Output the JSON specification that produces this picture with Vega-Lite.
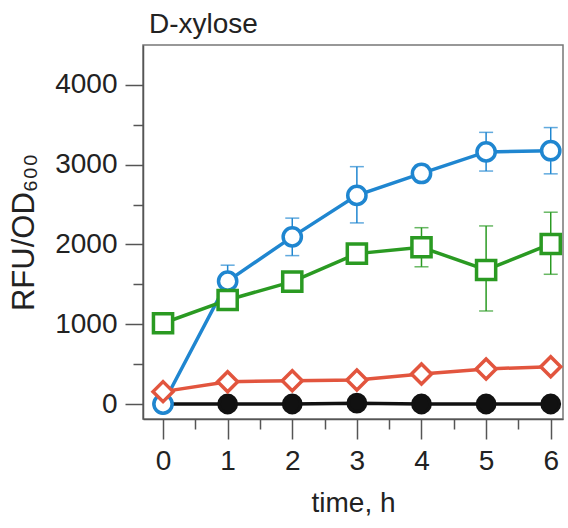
{
  "$schema": "https://vega.github.io/schema/vega-lite/v6.json",
  "width": 420,
  "height": 374,
  "autosize": "none",
  "padding": {"left": 143, "top": 45, "right": 5, "bottom": 109},
  "background": "white",
  "config": {
    "font": "Liberation Sans",
    "view": {"stroke": "#777", "strokeWidth": 1.5},
    "axis": {"grid": false, "domainColor": "#555", "domainWidth": 1.5, "tickColor": "#555", "tickWidth": 1.5, "labelColor": "#222", "titleColor": "#222", "labelFontSize": 28, "titleFontSize": 28, "titleFontWeight": "normal", "labelFont": "Liberation Sans", "titleFont": "Liberation Sans"}
  },
  "title": {"text": "D-xylose", "anchor": "start", "frame": "group", "fontSize": 28, "fontWeight": "normal", "color": "#222", "offset": 6, "dx": 6},
  "data": {
    "values": [
      {"series": "black", "t": 0, "v": 0},
      {"series": "black", "t": 1, "v": 0},
      {"series": "black", "t": 2, "v": 0},
      {"series": "black", "t": 3, "v": 10},
      {"series": "black", "t": 4, "v": 0},
      {"series": "black", "t": 5, "v": 0},
      {"series": "black", "t": 6, "v": 0},
      {"series": "blue", "t": 0, "v": 0},
      {"series": "blue", "t": 1, "v": 1540, "lo": 1340, "hi": 1740},
      {"series": "blue", "t": 2, "v": 2095, "lo": 1860, "hi": 2330},
      {"series": "blue", "t": 3, "v": 2615, "lo": 2270, "hi": 2975},
      {"series": "blue", "t": 4, "v": 2890, "lo": 2790, "hi": 2990},
      {"series": "blue", "t": 5, "v": 3160, "lo": 2920, "hi": 3405},
      {"series": "blue", "t": 6, "v": 3175, "lo": 2885, "hi": 3465},
      {"series": "green", "t": 0, "v": 1012},
      {"series": "green", "t": 1, "v": 1304},
      {"series": "green", "t": 2, "v": 1534},
      {"series": "green", "t": 3, "v": 1885},
      {"series": "green", "t": 4, "v": 1965, "lo": 1720, "hi": 2210},
      {"series": "green", "t": 5, "v": 1680, "lo": 1166, "hi": 2232},
      {"series": "green", "t": 6, "v": 2006, "lo": 1626, "hi": 2404},
      {"series": "red", "t": 0, "v": 155},
      {"series": "red", "t": 1, "v": 280},
      {"series": "red", "t": 2, "v": 292},
      {"series": "red", "t": 3, "v": 300},
      {"series": "red", "t": 4, "v": 376},
      {"series": "red", "t": 5, "v": 439},
      {"series": "red", "t": 6, "v": 468}
    ]
  },
  "encoding": {
    "x": {"field": "t", "type": "quantitative", "scale": {"domain": [-0.31, 6.19], "nice": false, "zero": false}},
    "y": {"field": "v", "type": "quantitative", "scale": {"domain": [-188, 4500], "nice": false, "zero": false}}
  },
  "layer": [
    {
      "mark": {"type": "line", "strokeWidth": 3.5},
      "encoding": {
        "x": {"field": "t", "type": "quantitative", "axis": {"orient": "bottom", "values": [0, 1, 2, 3, 4, 5, 6], "format": "d", "tickSize": 20, "labelPadding": 8, "title": "time, h", "titlePadding": 14}},
        "y": {"field": "v", "type": "quantitative", "axis": {"orient": "left", "values": [0, 1000, 2000, 3000, 4000], "format": "d", "tickSize": 18, "labelPadding": 8, "title": "RFU/OD₆₀₀", "titleFontSize": 31, "titlePadding": 14}},
        "color": {"field": "series", "type": "nominal", "scale": {"domain": ["black", "blue", "green", "red"], "range": ["#111111", "#1f86d0", "#2a9a22", "#e2553e"]}, "legend": null},
        "detail": {"field": "series"}
      }
    },
    {
      "transform": [{"filter": "isValid(datum.lo)"}],
      "mark": {"type": "rule", "strokeWidth": 1.5},
      "encoding": {
        "x": {"field": "t", "type": "quantitative", "axis": {"orient": "bottom", "values": [0.5, 1.5, 2.5, 3.5, 4.5, 5.5], "tickSize": 10, "labels": false, "domain": false, "title": null}},
        "y": {"field": "lo", "type": "quantitative", "axis": {"orient": "left", "values": [500, 1500, 2500, 3500], "tickSize": 10, "labels": false, "domain": false, "title": null}},
        "y2": {"field": "hi"},
        "color": {"field": "series", "type": "nominal", "legend": null}
      }
    },
    {
      "transform": [{"filter": "isValid(datum.lo)"}],
      "mark": {"type": "tick", "orient": "horizontal", "size": 14, "thickness": 1.5},
      "encoding": {
        "x": {"field": "t", "type": "quantitative", "axis": null},
        "y": {"field": "lo", "type": "quantitative", "axis": null},
        "color": {"field": "series", "type": "nominal", "legend": null}
      }
    },
    {
      "transform": [{"filter": "isValid(datum.hi)"}],
      "mark": {"type": "tick", "orient": "horizontal", "size": 14, "thickness": 1.5},
      "encoding": {
        "x": {"field": "t", "type": "quantitative", "axis": null},
        "y": {"field": "hi", "type": "quantitative", "axis": null},
        "color": {"field": "series", "type": "nominal", "legend": null}
      }
    },
    {
      "mark": {"type": "point", "filled": true, "strokeWidth": 3.5, "opacity": 1},
      "encoding": {
        "x": {"field": "t", "type": "quantitative", "axis": null},
        "y": {"field": "v", "type": "quantitative", "axis": null},
        "shape": {"field": "series", "type": "nominal", "scale": {"domain": ["black", "blue", "green", "red"], "range": ["circle", "circle", "square", "diamond"]}, "legend": null},
        "fill": {"field": "series", "type": "nominal", "scale": {"domain": ["black", "blue", "green", "red"], "range": ["#111111", "#ffffff", "#ffffff", "#ffffff"]}, "legend": null},
        "stroke": {"field": "series", "type": "nominal", "scale": {"domain": ["black", "blue", "green", "red"], "range": ["#111111", "#1f86d0", "#2a9a22", "#e2553e"]}, "legend": null},
        "size": {"field": "series", "type": "nominal", "scale": {"domain": ["black", "blue", "green", "red"], "range": [300, 400, 430, 580]}, "legend": null}
      }
    }
  ],
  "resolve": {"axis": {"x": "independent", "y": "independent"}}
}
